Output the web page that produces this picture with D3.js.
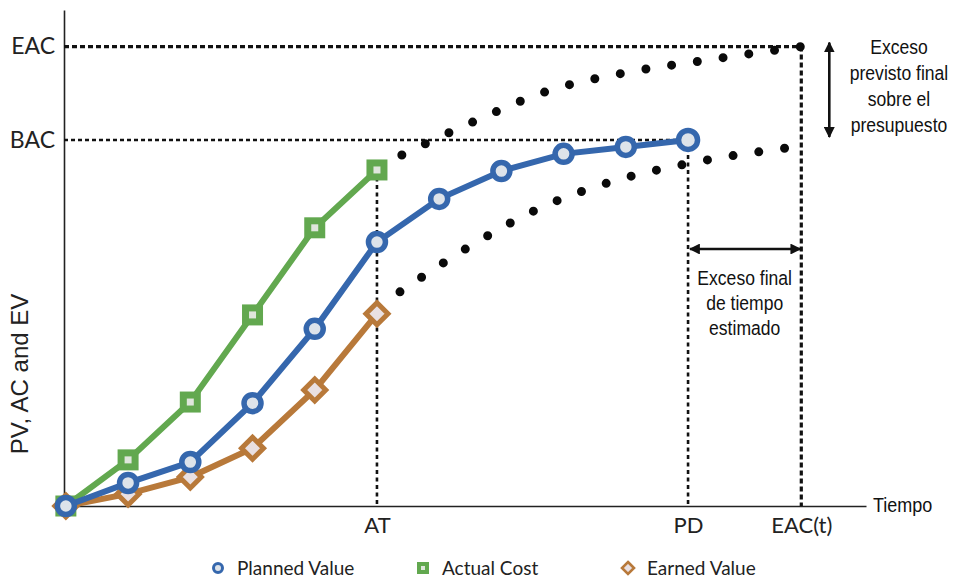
<!DOCTYPE html>
<html>
<head>
<meta charset="utf-8">
<script src="https://cdn.jsdelivr.net/npm/d3@7"></script>
<style>
  html, body { margin: 0; padding: 0; background: #fff; }
  svg { display: block; }
</style>
</head>
<body>
<svg id="chart" width="954" height="580"></svg>
<script>
// Earned value curves, one value per reporting period (BAC = 100)
const periods      = [0, 1, 2, 3, 4, 5, 6, 7, 8, 9, 10];
const plannedValue = [0, 6.3, 12, 28.1, 48.4, 72.1, 83.9, 91.5, 96.2, 98.1, 100];
const actualCost   = [0, 12.6, 28.4, 52.2, 76, 91.8];
const earnedValue  = [0, 3.3, 7.9, 15.8, 31.7, 52.5];

// Key values on the axes
const BAC = 100, EAC = 125.5;
const AT = 5, PD = 10, EACt = 11.82;
const xTickValues = [AT, PD, EACt];
const xTickLabels = ["AT", "PD", "EAC(t)"];
const yTickValues = [BAC, EAC];
const yTickLabels = ["BAC", "EAC"];

// Forecast trends beyond AT: [period, value]
const costForecast  = [[5.40, 95.9], [6.58, 105.2], [7.75, 113.4], [8.97, 118.3], [10.21, 121.6], [11.82, 125.5]];
const valueForecast = [[5.37, 58.5], [6.48, 70.8], [7.62, 81.4], [8.81, 88.8], [10.05, 93.7], [11.72, 98.1]];

const seriesNames = ["Planned Value", "Actual Cost", "Earned Value"];
const colors = { pv: "#3567ad", ac: "#62a84f", ev: "#b8793a" };
const markerFill = "#dde3ea";

const svg = d3.select("#chart");

const x = d3.scaleLinear().domain([-0.03, 12.86]).range([64, 866]);
const y = d3.scaleLinear().domain([0, 135.5]).range([506, 10]);

// Axes
const xAxis = d3.axisBottom(x)
  .tickValues(xTickValues)
  .tickFormat((d, i) => xTickLabels[i])
  .tickSize(0).tickSizeOuter(0).tickPadding(11);
const gx = svg.append("g").attr("transform", `translate(0,${y(0)})`).call(xAxis);
gx.select(".domain").attr("stroke", "#222").attr("stroke-width", 1.6);
gx.selectAll("text").attr("font-family", "Lato, 'Open Sans', sans-serif")
  .attr("font-size", 22).attr("fill", "#222");

const yAxis = d3.axisLeft(y)
  .tickValues(yTickValues)
  .tickFormat((d, i) => yTickLabels[i])
  .tickSize(0).tickSizeOuter(0).tickPadding(9);
const gy = svg.append("g").attr("transform", `translate(${x.range()[0]},0)`).call(yAxis);
gy.select(".domain").attr("stroke", "#222").attr("stroke-width", 1.6);
gy.selectAll("text").attr("font-family", "Lato, 'Open Sans', sans-serif")
  .attr("font-size", 23).attr("fill", "#222");

const noteFont = "'Liberation Sans', Arial, sans-serif";

svg.append("text")
  .attr("transform", `translate(${x.range()[1] + 7},${y(0) + 6}) scale(0.9,1)`)
  .attr("font-family", noteFont)
  .attr("font-size", 20).attr("fill", "#111")
  .text("Tiempo");

svg.append("text")
  .attr("transform", `translate(${28},${374}) rotate(-90)`)
  .attr("text-anchor", "middle")
  .attr("font-family", "'Liberation Sans', Arial, sans-serif")
  .attr("font-size", 24).attr("fill", "#222")
  .text("PV, AC and EV");

// Dashed reference lines
const refs = svg.append("g").attr("fill", "none").attr("stroke", "#111");
refs.append("line")
  .attr("x1", x.range()[0]).attr("x2", x(EACt)).attr("y1", y(EAC)).attr("y2", y(EAC))
  .attr("stroke-width", 3.2).attr("stroke-dasharray", "5 3");
refs.append("line")
  .attr("x1", x.range()[0]).attr("x2", x(PD)).attr("y1", y(BAC)).attr("y2", y(BAC))
  .attr("stroke-width", 2.4).attr("stroke-dasharray", "4 3");
refs.append("line")
  .attr("x1", x(EACt)).attr("x2", x(EACt)).attr("y1", y(EAC)).attr("y2", y(0))
  .attr("stroke-width", 3.2).attr("stroke-dasharray", "5 3");
refs.append("line")
  .attr("x1", x(PD)).attr("x2", x(PD)).attr("y1", y(BAC)).attr("y2", y(0))
  .attr("stroke-width", 2.6).attr("stroke-dasharray", "4 3.5");
refs.append("line")
  .attr("x1", x(AT)).attr("x2", x(AT)).attr("y1", y(actualCost[AT])).attr("y2", y(0))
  .attr("stroke-width", 2.6).attr("stroke-dasharray", "4 3.5");

// Forecast trends drawn as round dots
const trend = d3.line().x(d => x(d[0])).y(d => y(d[1])).curve(d3.curveMonotoneX);
[costForecast, valueForecast].forEach(pts => {
  svg.append("path")
    .attr("d", trend(pts))
    .attr("fill", "none").attr("stroke", "#0a0a0a")
    .attr("stroke-width", 9).attr("stroke-linecap", "round")
    .attr("stroke-dasharray", "0 26");
});

// Markers
function circleMarker(g, cx, cy, r, sw) {
  g.append("circle").attr("cx", cx).attr("cy", cy).attr("r", r)
    .attr("fill", markerFill).attr("stroke", colors.pv).attr("stroke-width", sw);
}
function squareMarker(g, cx, cy, s, inner) {
  g.append("rect").attr("x", cx - s / 2).attr("y", cy - s / 2).attr("width", s).attr("height", s)
    .attr("fill", colors.ac);
  g.append("rect").attr("x", cx - inner / 2).attr("y", cy - inner / 2).attr("width", inner).attr("height", inner)
    .attr("fill", "#dfe6dc");
}
function diamondMarker(g, cx, cy, h, sw) {
  g.append("path")
    .attr("d", `M${cx},${cy - h}L${cx + h},${cy}L${cx},${cy + h}L${cx - h},${cy}Z`)
    .attr("fill", "#e9e0e2").attr("stroke", colors.ev).attr("stroke-width", sw)
    .attr("stroke-linejoin", "miter");
}

const line = d3.line().x((d, i) => x(periods[i])).y(d => y(d));

const gAC = svg.append("g");
gAC.append("path").attr("d", line(actualCost)).attr("fill", "none")
  .attr("stroke", colors.ac).attr("stroke-width", 6);
actualCost.forEach((v, i) => squareMarker(gAC, x(periods[i]), y(v), 21, 7));

const gEV = svg.append("g");
gEV.append("path").attr("d", line(earnedValue)).attr("fill", "none")
  .attr("stroke", colors.ev).attr("stroke-width", 6);
earnedValue.forEach((v, i) => diamondMarker(gEV, x(periods[i]), y(v), 11, 5));

const gPV = svg.append("g");
gPV.append("path").attr("d", line(plannedValue)).attr("fill", "none")
  .attr("stroke", colors.pv).attr("stroke-width", 6);
plannedValue.forEach((v, i) => circleMarker(gPV, x(periods[i]), y(v), i === plannedValue.length - 1 ? 9.5 : 8.5, 5.5));

// Double-headed arrows
const defs = svg.append("defs");
defs.append("marker").attr("id", "head")
  .attr("viewBox", "0 0 10 10").attr("refX", 9).attr("refY", 5)
  .attr("markerWidth", 4.2).attr("markerHeight", 4.2).attr("orient", "auto-start-reverse")
  .append("path").attr("d", "M0,0L10,5L0,10Z").attr("fill", "#111");

svg.append("line")
  .attr("x1", x(EACt) + 28).attr("x2", x(EACt) + 28)
  .attr("y1", y(EAC) - 4).attr("y2", y(BAC) - 3)
  .attr("stroke", "#111").attr("stroke-width", 2.6)
  .attr("marker-start", "url(#head)").attr("marker-end", "url(#head)");

svg.append("line")
  .attr("x1", x(PD) + 2).attr("x2", x(EACt) - 1)
  .attr("y1", y(70.2)).attr("y2", y(70.2))
  .attr("stroke", "#111").attr("stroke-width", 2.6)
  .attr("marker-start", "url(#head)").attr("marker-end", "url(#head)");

// Annotation text, slightly condensed
function noteBlock(lines, cx, y0, step) {
  const g = svg.append("g");
  lines.forEach((d, i) => {
    g.append("text")
      .attr("transform", `translate(${cx},${y0 + i * step}) scale(0.9,1)`)
      .attr("text-anchor", "middle")
      .attr("font-family", noteFont).attr("font-size", 19.5).attr("fill", "#111")
      .text(d);
  });
}
noteBlock(["Exceso", "previsto final", "sobre el", "presupuesto"], 899, 54, 26);
noteBlock(["Exceso final", "de tiempo", "estimado"], (x(PD) + x(EACt)) / 2, 285, 25);

// Legend
const legend = svg.append("g").attr("transform", "translate(0,568)");
seriesNames.forEach((name, i) => {
  const lx = 218 + i * 205;
  const g = legend.append("g");
  if (i === 0) {
    g.append("circle").attr("cx", lx).attr("cy", 0).attr("r", 4.5)
      .attr("fill", markerFill).attr("stroke", colors.pv).attr("stroke-width", 3);
  } else if (i === 1) {
    g.append("rect").attr("x", lx - 6).attr("y", -6).attr("width", 12).attr("height", 12).attr("fill", colors.ac);
    g.append("rect").attr("x", lx - 2).attr("y", -2).attr("width", 4).attr("height", 4).attr("fill", "#dfe6dc");
  } else {
    g.append("path").attr("d", `M${lx},-6L${lx + 6},0L${lx},6L${lx - 6},0Z`)
      .attr("fill", "#e9e0e2").attr("stroke", colors.ev).attr("stroke-width", 2.6);
  }
  g.append("text").attr("x", lx + 19).attr("y", 0).attr("dy", "0.35em")
    .attr("font-family", "Lato, 'Open Sans', sans-serif").attr("font-size", 19).attr("fill", "#222")
    .text(name);
});
</script>
</body>
</html>
